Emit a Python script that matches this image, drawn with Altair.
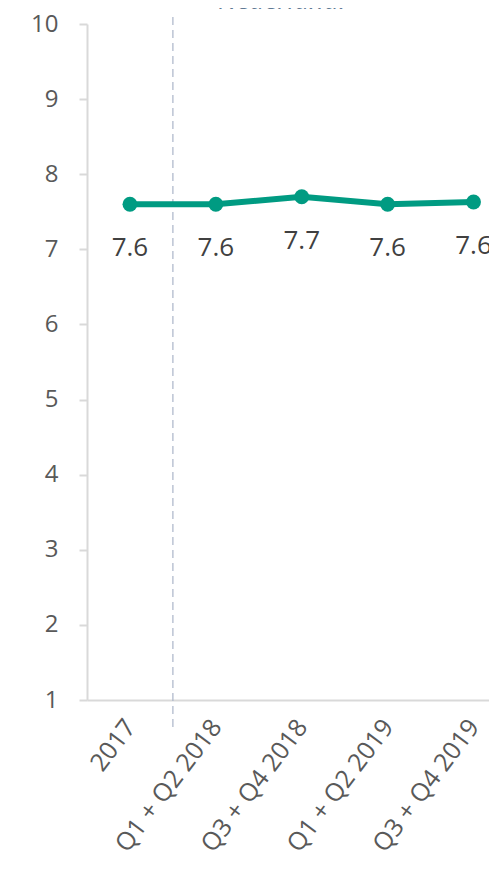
import json
import altair as alt
import pandas as pd

categories = ["2017", "Q1 + Q2 2018", "Q3 + Q4 2018", "Q1 + Q2 2019", "Q3 + Q4 2019"]
values = [7.6, 7.6, 7.7, 7.6, 7.63]
labels = ["7.6", "7.6", "7.7", "7.6", "7.6"]
separator_after = "2017"
title_text = "Nederland."

df = pd.DataFrame({"idx": list(range(len(categories))), "cat": categories,
                   "value": values, "label": labels})
sep_df = pd.DataFrame({"sep": [categories.index(separator_after) + 0.5]})
title_df = pd.DataFrame({"t": [title_text]})

TEAL = "#009B82"
GRID = "#D9D9D9"
FONT = "Open Sans"
label_expr = json.dumps(categories) + "[datum.value]"

xscale = alt.Scale(domain=[-0.5, 4.18], nice=False, zero=False)
yscale = alt.Scale(domain=[1, 10], nice=False, zero=False)

x_enc = alt.X("idx:Q", scale=xscale, axis=alt.Axis(
    values=list(range(len(categories))), labelExpr=label_expr,
    labelAngle=-53, labelAlign="right", labelBaseline="middle",
    labelFont=FONT, labelFontSize=25, labelColor="#595959",
    labelPadding=22, ticks=False, grid=False, domainColor=GRID,
    domainWidth=2, title=None, labelOverlap=False, labelFlush=False,
    labelBound=False))
y_enc = alt.Y("value:Q", scale=yscale, axis=alt.Axis(
    values=list(range(1, 11)), format="d", labelFont=FONT, labelFontSize=24,
    labelColor="#595959", labelPadding=21, tickSize=8, tickColor=GRID,
    tickWidth=2, domainColor=GRID, domainWidth=2, grid=False, title=None))

line = alt.Chart(df).mark_line(color=TEAL, strokeWidth=6).encode(x=x_enc, y=y_enc)
points = alt.Chart(df).mark_point(filled=True, color=TEAL, size=220, opacity=1).encode(
    x="idx:Q", y="value:Q")
text = alt.Chart(df).mark_text(font=FONT, fontSize=26, color="#404040",
                               baseline="middle", dy=44).encode(
    x="idx:Q", y="value:Q", text="label:N")
rule = alt.Chart(sep_df).mark_rule(color="#AAB4C8", strokeWidth=1.2,
                                   strokeDash=[8, 5]).encode(
    x="sep:Q", y=alt.value(-7), y2=alt.value(703))
title = alt.Chart(title_df).mark_text(font=FONT, fontSize=26, fontStyle="italic",
                                      color="#5F7A94", baseline="alphabetic").encode(
    x=alt.value(195), y=alt.value(-15), text="t:N")

chart = alt.layer(rule, line, points, text, title).properties(
    width=402, height=676,
    autosize=alt.AutoSizeParams(type="none"),
    padding={"left": 79, "top": 16, "right": 0, "bottom": 163},
).configure_view(stroke=None)

chart.save("out.html", embed_options={"renderer": "svg", "actions": False})
